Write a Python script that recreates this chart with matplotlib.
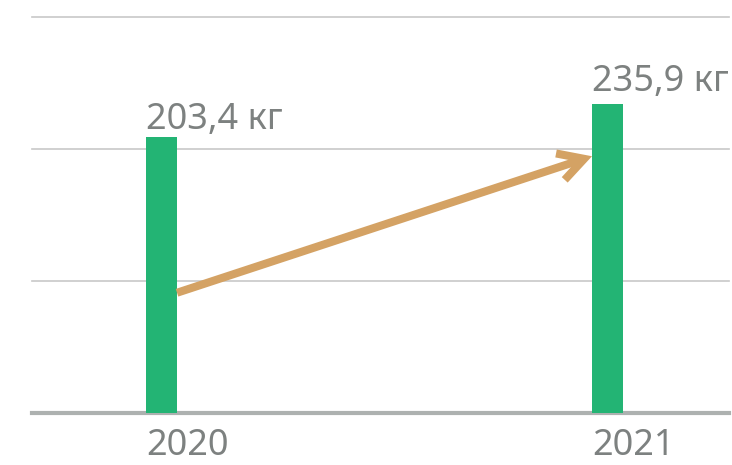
import numpy as np
import matplotlib.pyplot as plt

years = ['2020', '2021']
values = [203.4, 235.9]

# the picture is not drawn from zero, so the axis is cut
BASE = -68
TOP = 322

bar_color = '#23b474'
arrow_color = '#d4a264'
text_color = '#7d8180'
grid_color = '#c8c8c8'
base_color = '#adb1b0'

plt.rcParams['font.family'] = ['Noto Sans', 'DejaVu Sans']

fig = plt.figure(figsize=(7.32, 4.65), dpi=100)
ax = fig.add_axes([32 / 732, (465 - 412.5) / 465, (729 - 32) / 732, (412.5 - 16.7) / 465])

x = np.arange(len(years))
width = 0.07
heights = [v - BASE for v in values]
ax.bar(x, heights, width=width, bottom=BASE, color=bar_color, zorder=3)

ax.set_xlim(-0.29, 1.272)
ax.set_ylim(BASE, TOP)

for g in np.linspace(BASE, TOP, 4)[1:]:
    ax.axhline(g, color=grid_color, lw=1.2, clip_on=False, zorder=1)
ax.axhline(BASE, color=base_color, lw=3, clip_on=False, zorder=2)

for s in ax.spines.values():
    s.set_visible(False)
ax.set_xticks([])
ax.set_yticks([])

gaps = [5.5, 9.5]
for i, v in enumerate(values):
    label = '{:.1f} кг'.format(v).replace('.', ',')
    ax.annotate(label, (x[i] - width / 2, v), xytext=(0, gaps[i]),
                textcoords='offset points', ha='left', va='baseline',
                fontsize=26, color=text_color)
    ax.annotate(years[i], (x[i] - width / 2, BASE), xytext=(0, -30.5),
                textcoords='offset points', ha='left', va='baseline',
                fontsize=26, color=text_color, annotation_clip=False)

ax.annotate('', xy=(x[1] - width / 2, 184.5), xytext=(x[0] + width / 2, 50),
            arrowprops=dict(arrowstyle='->,head_length=0.9,head_width=0.5',
                            lw=5.8, color=arrow_color, mutation_scale=20,
                            shrinkA=0, shrinkB=0, joinstyle='miter',
                            capstyle='butt'),
            zorder=4)

fig.savefig('out.png', dpi=100)
